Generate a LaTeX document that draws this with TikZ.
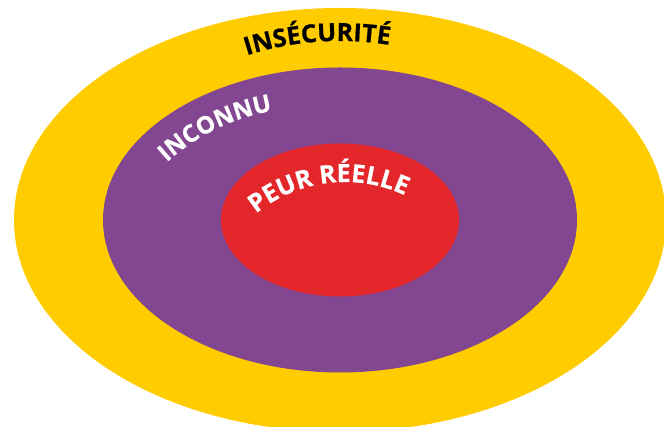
\documentclass[tikz,border=0pt]{standalone}
\usepackage{fontspec}
\setmainfont{Open Sans}[BoldFeatures={FakeBold=0.6}]
\usetikzlibrary{decorations.text}
\definecolor{jaunePeur}{RGB}{255,204,0}
\definecolor{violetPeur}{RGB}{131,70,145}
\definecolor{rougePeur}{RGB}{227,38,41}
\begin{document}
\begin{tikzpicture}[x=1pt,y=1pt]
	\tikzset{ ring/.style={fill=#1, draw=none} }
	\tikzset{ arclabel/.style={decorate, decoration={text along path, text align=center, text color=#1}} }
	% #1 colour, #2 font size, #3 x radius, #4 y radius, #5 start, #6 end, #7 text
	\newcommand{\ringlabel}[7]{
		\path[arclabel=#1, decoration={text={|\bfseries\fontsize{#2}{#2}\selectfont|#7}}]
			(centre) ++(#5:#3 and #4) arc[start angle=#5, end angle=#6, x radius=#3, y radius=#4];
	}
	\useasboundingbox (0,0) rectangle (664,427);
	\clip (0,0) rectangle (664,427);
	\coordinate (centre) at (340,207);
	\foreach \col/\rx/\ry in {jaunePeur/326/212, violetPeur/237/152.5, rougePeur/119/76.5} {
			\fill[ring=\col] (centre) ellipse[x radius=\rx, y radius=\ry];
		}
	\ringlabel{black}{25}{237}{179}{136}{56}{INSÉCURITÉ}
	\coordinate (centre) at (307.5,110);
	\ringlabel{white}{24}{209}{209}{156}{76}{INCONNU}
	\coordinate (centre) at (345,104);
	\ringlabel{white}{25}{141}{141}{147}{47}{PEUR RÉELLE}
\end{tikzpicture}
\end{document}
